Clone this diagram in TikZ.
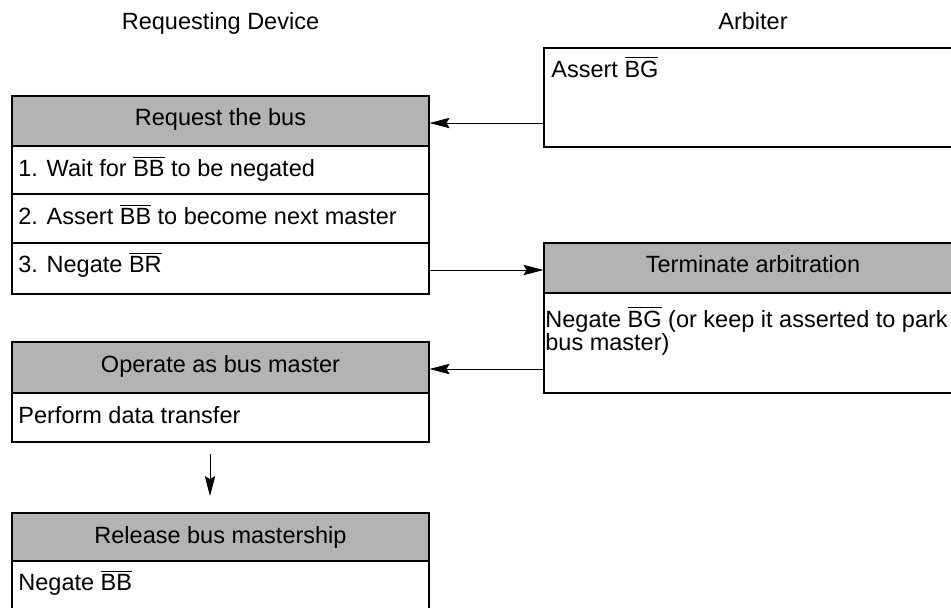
\documentclass[tikz,border=0pt]{standalone}
\usepackage{fontspec}
\setmainfont{Liberation Sans}
\usetikzlibrary{arrows.meta,fit}
\definecolor{hdrgray}{RGB}{179,179,179}
\newcommand{\ovl}[1]{$\overline{\mbox{#1}}$}
\begin{document}
\begin{tikzpicture}[x=0.5pt,y=-0.5pt,
  box/.style={draw=black, line width=0.6pt, inner sep=0pt, fill=white},
  hdr/.style={box, fill=hdrgray},
  txt/.style={inner sep=0pt, font=\fontsize{11.75}{11.7}\selectfont},
  arr/.style={draw=black, line width=0.35pt, -{Stealth[length=10pt,width=5.2pt,inset=1.6pt]}}]
\path[use as bounding box, clip] (0,0) rectangle (951,607);
\fill[white] (0,0) rectangle (951,607);
% column titles
\node[txt, anchor=base] (tdev) at (220.5,29) {Requesting Device};
\node[txt, anchor=base] (tarb) at (753,29) {Arbiter};
% Request the bus
\node[hdr, fit={(12,96) (429,146)}] (req) {};
\node[box, fit={(12,146) (429,194)}] (r1) {};
\node[box, fit={(12,194) (429,243)}] (r2) {};
\node[box, fit={(12,243) (429,294)}] (r3) {};
\node[txt, anchor=base] (treq) at (220.5,125) {Request the bus};
\node[txt, anchor=base west] (tr1) at (18,176) {1. Wait for \ovl{BB} to be negated};
\node[txt, anchor=base west] (tr2) at (18,224) {2. Assert \ovl{BB} to become next master};
\node[txt, anchor=base west] (tr3) at (18,272) {3. Negate \ovl{BR}};
% Assert BG
\node[box, fit={(544,48) (962,147)}] (asrt) {};
\node[txt, anchor=base west] (tasrt) at (551,77) {Assert \ovl{BG}};
% Terminate arbitration
\node[hdr, fit={(544,243) (962,293)}] (term) {};
\node[box, fit={(544,293) (962,393)}] (t1) {};
\node[txt, anchor=base] (tterm) at (753,272) {Terminate arbitration};
\node[txt, anchor=base west] (tt1a) at (545,327) {Negate \ovl{BG} (or keep it asserted to park};
\node[txt, anchor=base west] (tt1b) at (545,350) {bus master)};
% Operate as bus master
\node[hdr, fit={(12,342) (429,393)}] (op) {};
\node[box, fit={(12,393) (429,442)}] (o1) {};
\node[txt, anchor=base] (top) at (220.5,372) {Operate as bus master};
\node[txt, anchor=base west] (to1) at (18,423) {Perform data transfer};
% Release bus mastership
\node[hdr, fit={(12,513) (429,561)}] (rel) {};
\node[box, fit={(12,561) (429,612)}] (rl1) {};
\node[txt, anchor=base] (trel) at (220.5,543) {Release bus mastership};
\node[txt, anchor=base west] (trl1) at (18,590) {Negate \ovl{BB}};
% connectors
\coordinate (c1) at (544,123);
\draw[arr] (c1) -- (c1 -| req.east);
\coordinate (c2) at (429,270);
\draw[arr] (c2) -- (c2 -| term.west);
\coordinate (c3) at (544,369);
\draw[arr] (c3) -- (c3 -| op.east);
\coordinate (c4) at (210,454);
\draw[arr] (c4) -- (c4 |- 0,496);
\end{tikzpicture}
\end{document}
